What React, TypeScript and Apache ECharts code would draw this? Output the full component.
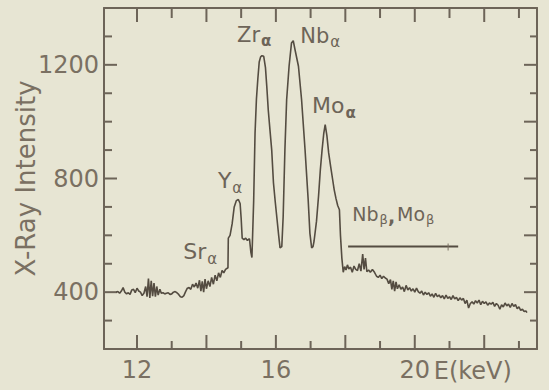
import { useEffect, useRef } from "react";
import * as echarts from "echarts";

// X-ray spectrum: [energy keV, intensity]
const spectrum: [number, number][] = [
  [11.40, 400], [11.45, 402], [11.50, 396], [11.55, 404], [11.60, 416], [11.65, 400], [11.70, 394], [11.75, 398],
  [11.80, 392], [11.85, 408], [11.90, 410], [11.95, 398], [12.00, 414], [12.05, 404], [12.10, 400], [12.15, 388],
  [12.20, 396], [12.25, 420], [12.29, 384], [12.33, 448], [12.37, 380], [12.41, 440], [12.45, 386], [12.49, 432],
  [12.53, 384], [12.57, 420], [12.61, 390], [12.66, 410], [12.70, 396], [12.75, 398], [12.80, 394], [12.85, 396],
  [12.90, 398], [12.95, 392], [13.00, 394], [13.05, 400], [13.10, 402], [13.15, 398], [13.20, 392], [13.25, 384],
  [13.30, 382], [13.35, 388], [13.40, 402], [13.45, 414], [13.50, 416], [13.55, 410], [13.60, 428], [13.65, 418],
  [13.70, 432], [13.75, 414], [13.80, 442], [13.84, 404], [13.88, 438], [13.92, 400], [13.96, 446], [14.00, 412],
  [14.05, 440], [14.10, 420], [14.15, 452], [14.20, 428], [14.25, 460], [14.30, 440], [14.35, 468], [14.40, 452],
  [14.45, 476], [14.50, 468], [14.55, 480], [14.62, 486], [14.63, 590], [14.68, 600], [14.74, 640], [14.80, 700],
  [14.86, 722], [14.92, 726], [14.97, 712], [15.00, 660], [15.03, 590], [15.08, 585], [15.13, 590], [15.18, 582],
  [15.24, 588], [15.28, 540], [15.31, 522], [15.33, 600], [15.36, 720], [15.40, 960], [15.44, 1080], [15.48, 1150],
  [15.52, 1210], [15.56, 1228], [15.60, 1232], [15.65, 1230], [15.70, 1190], [15.74, 1120], [15.78, 1042], [15.83, 970],
  [15.88, 900], [15.93, 785], [15.98, 720], [16.03, 660], [16.08, 600], [16.12, 556], [16.17, 560], [16.21, 666],
  [16.26, 901], [16.31, 1077], [16.38, 1195], [16.45, 1277], [16.50, 1285], [16.55, 1254], [16.65, 1195], [16.74, 1077],
  [16.84, 901], [16.93, 725], [16.98, 607], [17.03, 556], [17.07, 560], [17.10, 580], [17.17, 650], [17.23, 740],
  [17.28, 830], [17.33, 900], [17.38, 960], [17.42, 990], [17.47, 950], [17.52, 890], [17.58, 840], [17.63, 800],
  [17.68, 760], [17.73, 730], [17.78, 705], [17.83, 690], [17.86, 600], [17.90, 520], [17.94, 470], [17.98, 490],
  [18.02, 478], [18.06, 496], [18.10, 482], [18.15, 488], [18.20, 470], [18.25, 492], [18.30, 480], [18.35, 476],
  [18.40, 500], [18.45, 474], [18.50, 534], [18.54, 480], [18.58, 520], [18.62, 472], [18.67, 478], [18.72, 470],
  [18.78, 480], [18.84, 470], [18.90, 456], [18.95, 452], [19.00, 460], [19.05, 448], [19.10, 456], [19.15, 450],
  [19.20, 446], [19.25, 430], [19.30, 444], [19.34, 410], [19.38, 440], [19.42, 404], [19.46, 436], [19.50, 412],
  [19.55, 426], [19.60, 410], [19.65, 418], [19.70, 402], [19.75, 424], [19.80, 408], [19.85, 416], [19.90, 404],
  [19.95, 412], [20.00, 400], [20.05, 414], [20.10, 402], [20.15, 396], [20.20, 404], [20.25, 390], [20.30, 400],
  [20.35, 392], [20.40, 398], [20.45, 386], [20.50, 394], [20.55, 382], [20.60, 396], [20.65, 384], [20.70, 390],
  [20.75, 380], [20.80, 388], [20.85, 376], [20.90, 390], [20.95, 378], [21.00, 384], [21.05, 374], [21.10, 388],
  [21.15, 376], [21.20, 382], [21.25, 370], [21.30, 380], [21.35, 372], [21.40, 378], [21.45, 360], [21.50, 372],
  [21.55, 344], [21.60, 360], [21.65, 366], [21.70, 358], [21.75, 370], [21.80, 362], [21.85, 372], [21.90, 356],
  [21.95, 368], [22.00, 360], [22.05, 366], [22.10, 354], [22.15, 362], [22.20, 358], [22.25, 364], [22.30, 350],
  [22.35, 360], [22.40, 354], [22.45, 340], [22.50, 356], [22.55, 348], [22.60, 362], [22.65, 352], [22.70, 358],
  [22.75, 346], [22.80, 360], [22.85, 350], [22.90, 356], [22.95, 342], [23.00, 348], [23.05, 336], [23.10, 340],
  [23.15, 332], [23.20, 334], [23.23, 328],
];

const xLabelValues = [12, 16, 20];
const xMajorTicks = [12, 14, 16, 18, 20, 22];
const xMinorTicks = [13, 15, 17, 19, 21, 23];
const yLabelValues = [400, 800, 1200];
const yLeftMinorTicks = [300, 500, 600, 700, 900, 1000, 1100, 1300];
const yRightMajorTicks = [400, 600, 800, 1000, 1200];
const yRightMinorTicks = [300, 500, 700, 900, 1100, 1300];

const xTitle = "E(keV)";
const yTitle = "X-Ray Intensity";

// peak annotations: main text anchored (left, middle) at [energy, intensity], followed by a subscript
const annotations = [
  { main: "Sr", sub: "α", e: 13.33, v: 542, size: 22, subBold: false },
  { main: "Y", sub: "α", e: 14.33, v: 792, size: 22, subBold: false },
  { main: "Zr", sub: "α", e: 14.88, v: 1306, size: 21, subBold: true },
  { main: "Nb", sub: "α", e: 16.70, v: 1303, size: 21, subBold: false },
  { main: "Mo", sub: "α", e: 17.04, v: 1056, size: 22, subBold: true },
  { main: "Nb", sub: "β", e: 18.2, v: 676, size: 19, subBold: false },
  { main: "Mo", sub: "β", e: 19.49, v: 676, size: 19, subBold: false },
];
const separator = { text: ",", e: 19.23, v: 668 };
const betaRange = { from: 18.08, to: 21.25, level: 561, mark: 20.96 };

const E_MIN = 11.05;
const E_MAX = 23.52;
const I_MIN = 200;
const I_MAX = 1400;

const BG = "#e7e5d3";
const INK = "#6d6458";
const TEXT = "#7a7062";
const LINE = "#544c41";
const FONT_NAME = "DejaVu Sans";
const FONT = '"DejaVu Sans", sans-serif';

// tick groups drawn through the axes' scales
const tickGroups = [
  { values: xMajorTicks, axis: "x", at: I_MIN, len: -14 },
  { values: xMajorTicks, axis: "x", at: I_MAX, len: 14 },
  { values: xMinorTicks, axis: "x", at: I_MIN, len: -8 },
  { values: xMinorTicks, axis: "x", at: I_MAX, len: 10 },
  { values: yLabelValues, axis: "y", at: E_MIN, len: 13 },
  { values: yLeftMinorTicks, axis: "y", at: E_MIN, len: 8 },
  { values: yRightMajorTicks, axis: "y", at: E_MAX, len: -13 },
  { values: yRightMinorTicks, axis: "y", at: E_MAX, len: -7 },
];

function textWidth(t: string, size: number, bold = false) {
  const c = document.createElement("canvas").getContext("2d")!;
  c.font = `${bold ? "bold " : ""}${size}px "${FONT_NAME}"`;
  return c.measureText(t).width;
}

export default function App() {
  const ref = useRef<HTMLDivElement>(null);
  useEffect(() => {
    document.body.style.margin = "0";
    document.body.style.background = BG;
    const chart = echarts.init(ref.current!, null, { renderer: "svg" });
    const frameLine = { show: true, onZero: false, lineStyle: { color: INK, width: 2 } };
    const xBase = { type: "value" as const, min: E_MIN, max: E_MAX, splitLine: { show: false }, axisTick: { show: false }, axisLine: frameLine };
    const yBase = { type: "value" as const, min: I_MIN, max: I_MAX, splitLine: { show: false }, axisTick: { show: false }, axisLine: frameLine };

    const tickSeries = tickGroups.map((g) => ({
      type: "custom",
      clip: false,
      data: g.values.map((v) => (g.axis === "x" ? [v, g.at] : [g.at, v])),
      renderItem: (_p: any, api: any) => {
        const p = api.coord([api.value(0), api.value(1)]);
        const L = g.len;
        const shape =
          g.axis === "x"
            ? { x: p[0] - 1, y: L > 0 ? p[1] : p[1] + L, width: 2, height: Math.abs(L) }
            : { x: L > 0 ? p[0] : p[0] + L, y: p[1] - 1, width: Math.abs(L), height: 2 };
        return { type: "rect", shape, style: { fill: INK } };
      },
    }));

    chart.setOption({
      animation: false,
      backgroundColor: BG,
      grid: { left: 104, right: 12, top: 8, bottom: 41 },
      xAxis: [
        {
          ...xBase,
          position: "bottom",
          axisLabel: { customValues: xLabelValues, margin: 9, fontSize: 24, color: TEXT, fontFamily: FONT, formatter: (v: number) => String(v) },
        },
        { ...xBase, position: "top", axisLabel: { show: false } },
      ],
      yAxis: [
        {
          ...yBase,
          position: "left",
          axisLabel: { customValues: yLabelValues, margin: 5, fontSize: 24, color: TEXT, fontFamily: FONT, formatter: (v: number) => String(v) },
        },
        { ...yBase, position: "right", axisLabel: { show: false } },
      ],
      series: [
        {
          type: "line",
          data: spectrum,
          showSymbol: false,
          symbol: "none",
          lineStyle: { color: LINE, width: 1.6 },
        },
        ...tickSeries,
      ],
    });

    const px = (e: number, v: number) => chart.convertToPixel({ xAxisIndex: 0, yAxisIndex: 0 }, [e, v]) as number[];
    const graphics: any[] = [];

    annotations.forEach((a) => {
      const [x, y] = px(a.e, a.v);
      const subSize = Math.round(a.size * 0.7);
      graphics.push({
        type: "text",
        x,
        y,
        style: { text: a.main, fill: INK, fontSize: a.size, fontFamily: FONT, align: "left", verticalAlign: "middle" },
      });
      graphics.push({
        type: "text",
        x: x + textWidth(a.main, a.size) + 1,
        y: y + a.size * 0.32,
        style: {
          text: a.sub,
          fill: INK,
          fontSize: subSize,
          fontFamily: FONT,
          fontWeight: a.subBold ? "bold" : "normal",
          align: "left",
          verticalAlign: "middle",
        },
      });
    });
    const [sx, sy] = px(separator.e, separator.v);
    graphics.push({
      type: "text",
      x: sx,
      y: sy,
      style: { text: separator.text, fill: INK, fontSize: 19, fontWeight: "bold", fontFamily: FONT, align: "left", verticalAlign: "middle" },
    });
    const [bx1, by] = px(betaRange.from, betaRange.level);
    const [bx2] = px(betaRange.to, betaRange.level);
    const [bm] = px(betaRange.mark, betaRange.level);
    graphics.push({ type: "rect", shape: { x: bx1, y: by - 1, width: bx2 - bx1, height: 2 }, style: { fill: LINE } });
    graphics.push({ type: "rect", shape: { x: bm - 0.5, y: by - 3, width: 1, height: 7 }, style: { fill: TEXT } });

    const [x20, yBottom] = px(20, I_MIN);
    graphics.push({
      type: "text",
      x: x20 + 19,
      y: yBottom + 22,
      style: { text: xTitle, fill: TEXT, fontSize: 24, fontFamily: FONT, align: "left", verticalAlign: "middle" },
    });
    const [, yMid] = px(E_MIN, (I_MIN + I_MAX) / 2);
    graphics.push({
      type: "text",
      x: 26,
      y: yMid,
      rotation: Math.PI / 2,
      style: { text: yTitle, fill: TEXT, fontSize: 26, fontFamily: FONT, align: "center", verticalAlign: "middle" },
    });
    chart.setOption({ graphic: graphics });

    return () => chart.dispose();
  }, []);
  return <div ref={ref} style={{ position: "fixed", left: 0, top: 0, width: 549, height: 390, background: BG }} />;
}
